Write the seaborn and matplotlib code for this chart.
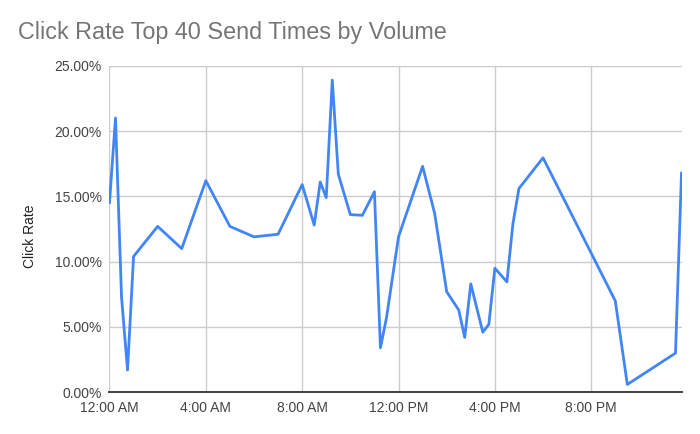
import matplotlib
matplotlib.use("Agg")
import matplotlib.pyplot as plt
import seaborn as sns
import pandas as pd

# Send time in hours after midnight
send_hours = [0.0, 0.25, 0.5, 0.75, 1.0, 2.0, 3.0, 4.0, 5.0, 6.0, 7.0,
              8.0, 8.5, 8.75, 9.0, 9.25, 9.5, 10.0, 10.5, 11.0, 11.25, 11.5,
              12.0, 13.0, 13.5, 14.0, 14.5, 14.75, 15.0, 15.5, 15.75,
              16.0, 16.5, 16.75, 17.0, 18.0, 21.0, 21.5, 23.5, 23.75]
# Click rate in percent
click_rate = [14.5, 21.0, 7.3, 1.7, 10.4, 12.7, 11.0, 16.2, 12.7, 11.9, 12.1,
              15.9, 12.8, 16.1, 14.9, 23.9, 16.7, 13.6, 13.55, 15.35, 3.4, 5.7,
              11.9, 17.3, 13.7, 7.7, 6.3, 4.2, 8.3, 4.6, 5.2,
              9.5, 8.45, 12.9, 15.6, 17.95, 7.0, 0.6, 3.0, 16.8]
x_tick_hours = [0, 4, 8, 12, 16, 20]
x_tick_labels = ["12:00 AM", "4:00 AM", "8:00 AM", "12:00 PM", "4:00 PM", "8:00 PM"]
y_ticks = [0, 5, 10, 15, 20, 25]
y_tick_labels = ["0.00%", "5.00%", "10.00%", "15.00%", "20.00%", "25.00%"]

df = pd.DataFrame({"hour": send_hours, "rate": click_rate})

sns.set_theme(style="white")
plt.rcParams["font.family"] = ["Liberation Sans", "DejaVu Sans"]

fig = plt.figure(figsize=(7, 4.34), dpi=100)
ax = fig.add_axes([0.1564, 0.0961, 0.8172, 0.7525])

sns.lineplot(data=df, x="hour", y="rate", ax=ax, color="#4285F4",
             linewidth=2, estimator=None, sort=False)

ax.set_xlim(0, 23.75)
ax.set_ylim(0, 25)
ax.set_xticks(x_tick_hours)
ax.set_xticklabels(x_tick_labels)
ax.set_yticks(y_ticks)
ax.set_yticklabels(y_tick_labels)
ax.grid(True, color="#cccccc", linewidth=1)
ax.set_axisbelow(True)
for s in ["top", "right", "left"]:
    ax.spines[s].set_visible(False)
ax.spines["bottom"].set_color("#333333")
ax.spines["bottom"].set_linewidth(1.3)
ax.tick_params(axis="both", length=0, labelsize=10, labelcolor="#444444")
ax.tick_params(axis="x", pad=6)
ax.tick_params(axis="y", pad=5.5)
ax.set_xlabel("")
ax.set_ylabel("Click Rate", fontsize=10, color="#222222")
ax.yaxis.set_label_coords(-0.1267, 0.4786)

fig.text(18 / 700, 1 - 39.3 / 434, "Click Rate Top 40 Send Times by Volume",
         fontsize=16.8, color="#757575", ha="left", va="baseline")

fig.savefig("out.png", dpi=100)
